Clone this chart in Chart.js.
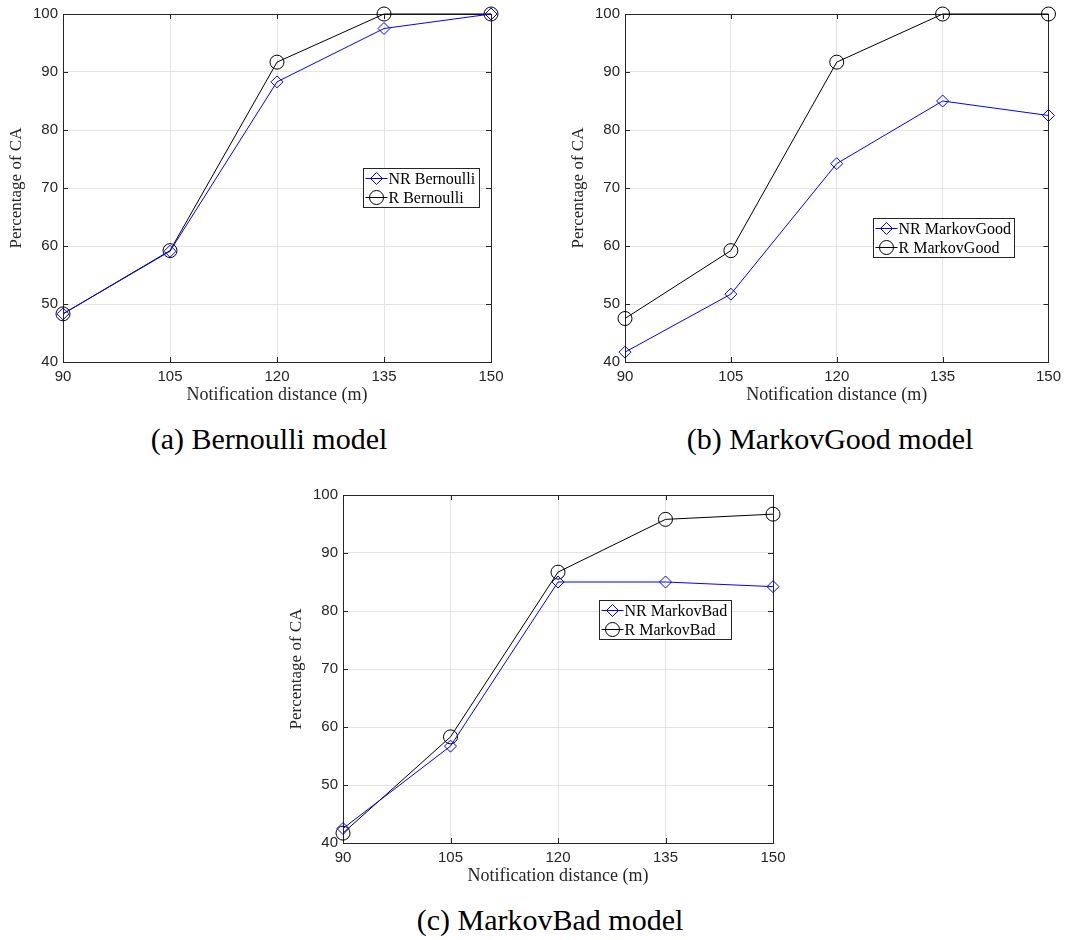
<!DOCTYPE html>
<html>
<head>
<meta charset="utf-8">
<script src="https://cdn.jsdelivr.net/npm/chart.js@4/dist/chart.umd.min.js"></script>
<style>
  body { margin:0; background:#fff; width:1067px; height:940px; position:relative; overflow:hidden; }
  canvas { position:absolute; }
  .caption { position:absolute; font-family:"Liberation Serif", serif; font-size:30px; color:#000;
             transform:translate(-50%,-50%); white-space:nowrap; }
</style>
</head>
<body>
<canvas id="chartA" width="520" height="410" style="left:0px;top:0px"></canvas>
<canvas id="chartB" width="505" height="410" style="left:562px;top:0px"></canvas>
<canvas id="chartC" width="522" height="410" style="left:280px;top:481px"></canvas>
<div class="caption" style="left:269px;top:439px">(a) Bernoulli model</div>
<div class="caption" style="left:830px;top:439px">(b) MarkovGood model</div>
<div class="caption" style="left:550px;top:920px">(c) MarkovBad model</div>
<script>
// datos
const distancias = [90, 105, 120, 135, 150]
const ticksY = [40, 50, 60, 70, 80, 90, 100]

const nrBernoulli = [48.3, 59.1, 88.3, 97.5, 100]
const rBernoulli = [48.3, 59.2, 91.7, 100, 100]

const nrMarkovGood = [41.7, 51.7, 74.2, 85.0, 82.5]
const rMarkovGood = [47.5, 59.2, 91.7, 100, 100]

const nrMarkovBad = [42.5, 56.7, 85.0, 85.0, 84.2]
const rMarkovBad = [41.7, 58.3, 86.7, 95.8, 96.7]

const ejeColor = '#262626'

// caja y marcas hacia dentro al estilo matlab
const marcoMatlab = {
  id: 'marcoMatlab',
  beforeDatasetsDraw(chart) {
    const ctx = chart.ctx
    const a = chart.chartArea
    const sx = chart.scales.x, sy = chart.scales.y
    ctx.save()
    ctx.strokeStyle = ejeColor
    ctx.lineWidth = 1
    ctx.beginPath()
    distancias.forEach(v => {
      const px = Math.round(sx.getPixelForValue(v)) + 0.5
      ctx.moveTo(px, a.bottom); ctx.lineTo(px, a.bottom - 5)
      ctx.moveTo(px, a.top); ctx.lineTo(px, a.top + 5)
    })
    ticksY.forEach(v => {
      const py = Math.round(sy.getPixelForValue(v)) + 0.5
      ctx.moveTo(a.left, py); ctx.lineTo(a.left + 5, py)
      ctx.moveTo(a.right, py); ctx.lineTo(a.right - 5, py)
    })
    ctx.stroke()
    ctx.strokeRect(Math.round(a.left) + 0.5, Math.round(a.top) + 0.5,
                   Math.round(a.right) - Math.round(a.left), Math.round(a.bottom) - Math.round(a.top))
    ctx.restore()
  }
}

// leyenda dentro del area
const leyendaMatlab = {
  id: 'leyendaMatlab',
  afterDraw(chart, args, opts) {
    const ctx = chart.ctx
    const a = chart.chartArea
    const x = Math.round(a.left + opts.dx) + 0.5
    const y = Math.round(a.top + opts.dy) + 0.5
    ctx.save()
    ctx.font = '16px "Liberation Serif"'
    const anchoTexto = Math.max(...chart.data.datasets.map(d => ctx.measureText(d.label).width))
    const w = Math.round(26 + anchoTexto + 3)
    const h = 39
    ctx.fillStyle = '#fff'
    ctx.fillRect(x, y, w, h)
    ctx.strokeStyle = ejeColor
    ctx.lineWidth = 1
    ctx.strokeRect(x, y, w, h)
    chart.data.datasets.forEach((d, i) => {
      const fy = y + 10 + i * 19
      ctx.strokeStyle = d.borderColor
      ctx.beginPath()
      ctx.moveTo(x + 2, fy); ctx.lineTo(x + 24, fy)
      ctx.stroke()
      const cx = x + 13
      ctx.beginPath()
      if (d.pointStyle === 'circle') {
        ctx.arc(cx, fy, d.pointRadius, 0, Math.PI * 2)
      } else {
        const r = d.pointRadius
        ctx.moveTo(cx - r, fy); ctx.lineTo(cx, fy - r); ctx.lineTo(cx + r, fy); ctx.lineTo(cx, fy + r); ctx.closePath()
      }
      ctx.stroke()
      ctx.fillStyle = '#000'
      ctx.textBaseline = 'middle'
      ctx.fillText(d.label, x + 25, fy + 1)
    })
    ctx.restore()
  }
}

let crearGrafica = (id, nr, r, nombre, padding, leyenda) => {
  const ctx = document.getElementById(id).getContext('2d')
  return new Chart(ctx, {
    type: 'line',
    data: {
      datasets: [
        {
          label: 'NR ' + nombre,
          data: distancias.map((d, i) => ({ x: d, y: nr[i] })),
          borderColor: '#0000ff',
          backgroundColor: 'transparent',
          borderWidth: 1,
          pointStyle: 'rectRot',
          pointRadius: 6,
          pointBorderWidth: 1,
          pointBackgroundColor: 'transparent',
          tension: 0,
          clip: false
        },
        {
          label: 'R ' + nombre,
          data: distancias.map((d, i) => ({ x: d, y: r[i] })),
          borderColor: '#000000',
          backgroundColor: 'transparent',
          borderWidth: 1,
          pointStyle: 'circle',
          pointRadius: 7,
          pointBorderWidth: 1,
          pointBackgroundColor: 'transparent',
          tension: 0,
          clip: false
        }
      ]
    },
    options: {
      responsive: false,
      animation: false,
      layout: { padding: padding },
      plugins: {
        legend: { display: false },
        tooltip: { enabled: false },
        leyendaMatlab: leyenda
      },
      scales: {
        x: {
          type: 'linear',
          min: 90,
          max: 150,
          afterFit: (s) => { s.height = 48 },
          afterBuildTicks: (s) => { s.ticks = distancias.map(v => ({ value: v })) },
          grid: { color: '#e3e3e3', drawTicks: false },
          border: { display: false },
          ticks: { color: ejeColor, padding: 6, font: { family: 'Liberation Sans', size: 15 }, maxRotation: 0 },
          title: {
            display: true,
            text: 'Notification distance (m)',
            color: ejeColor,
            font: { family: 'Liberation Serif', size: 18 },
            padding: { top: 0, bottom: 4 }
          }
        },
        y: {
          min: 40,
          max: 100,
          afterFit: (s) => { s.width = 63 },
          afterBuildTicks: (s) => { s.ticks = ticksY.map(v => ({ value: v })) },
          grid: { color: '#e3e3e3', drawTicks: false },
          border: { display: false },
          ticks: { color: ejeColor, padding: 5, font: { family: 'Liberation Sans', size: 15 } },
          title: {
            display: true,
            text: 'Percentage of CA',
            color: ejeColor,
            font: { family: 'Liberation Serif', size: 17 },
            padding: { top: 6, bottom: 0 }
          }
        }
      }
    },
    plugins: [marcoMatlab, leyendaMatlab]
  })
}

window.addEventListener('DOMContentLoaded', () => {
  crearGrafica('chartA', nrBernoulli, rBernoulli, 'Bernoulli',
    { left: 0, top: 14, right: 29, bottom: 0 }, { dx: 300, dy: 154 })
  crearGrafica('chartB', nrMarkovGood, rMarkovGood, 'MarkovGood',
    { left: 0, top: 14, right: 15, bottom: 0 }, { dx: 248, dy: 204 })
  crearGrafica('chartC', nrMarkovBad, rMarkovBad, 'MarkovBad',
    { left: 0, top: 14, right: 29, bottom: 0 }, { dx: 256, dy: 105 })
})
</script>
</body>
</html>
